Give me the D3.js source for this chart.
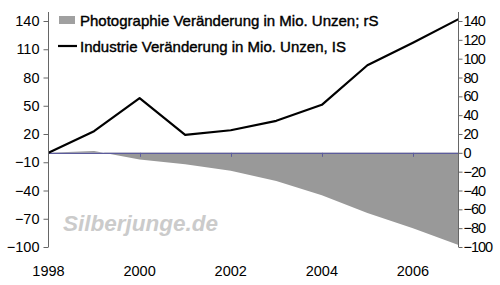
<!DOCTYPE html>
<html>
<head>
<meta charset="utf-8">
<script src="https://cdn.jsdelivr.net/npm/d3@7/dist/d3.min.js"></script>
<style>
  body { margin: 0; background: #fff; }
  svg text { font-family: "Liberation Sans", Arial, sans-serif; fill: #000; }
</style>
</head>
<body>
<div id="chart"></div>
<script>
const years = [1998, 1999, 2000, 2001, 2002, 2003, 2004, 2005, 2006, 2007];
const industrie = [0, 23, 58, 19, 24, 34, 51, 93, 117, 142];
const photographie = [0, 2, -7, -12, -19, -30, -45, -64, -80, -98];
const leftTicks = [-100, -70, -40, -10, 20, 50, 80, 110, 140];
const rightTicks = [-100, -80, -60, -40, -20, 0, 20, 40, 60, 80, 100, 120, 140];
const yearTicks = [1998, 2000, 2002, 2004, 2006];
const legendLabels = [
  "Photographie Veränderung in Mio. Unzen; rS",
  "Industrie Veränderung in Mio. Unzen, IS"
];

const width = 500, height = 285;
const plot = { left: 48.5, right: 458.5, top: 21, bottom: 247 };

const svg = d3.select("#chart")
  .append("svg")
  .attr("width", width)
  .attr("height", height);

const x = d3.scaleLinear().domain([1998, 2007]).range([plot.left, plot.right]);
const yL = d3.scaleLinear().domain([-100, 140]).range([plot.bottom, plot.top]);
const yR = d3.scaleLinear().domain([-100, 140]).range([plot.bottom, plot.top]);

// photography area (right scale)
const area = d3.area()
  .x((d, i) => x(years[i]))
  .y0(yR(0))
  .y1(d => yR(d));

svg.append("path")
  .datum(photographie)
  .attr("d", area)
  .attr("fill", "#999999");

// zero line with year ticks
svg.append("line")
  .attr("x1", plot.left).attr("x2", plot.right)
  .attr("y1", yL(0) + 0.5).attr("y2", yL(0) + 0.5)
  .attr("stroke", "#5c5c9c")
  .attr("stroke-width", 1.2);

svg.selectAll(".ytick")
  .data(yearTicks.slice(1))
  .enter()
  .append("line")
  .attr("x1", d => Math.round(x(d)) + 0.5)
  .attr("x2", d => Math.round(x(d)) + 0.5)
  .attr("y1", yL(0))
  .attr("y2", yL(0) + 4)
  .attr("stroke", "#5c5c9c");

// industry line (left scale)
const line = d3.line()
  .x((d, i) => x(years[i]))
  .y(d => yL(d));

svg.append("path")
  .datum(industrie)
  .attr("d", line)
  .attr("fill", "none")
  .attr("stroke", "#000")
  .attr("stroke-width", 2.2)
  .attr("stroke-linejoin", "round");

// left axis
const axisL = svg.append("g")
  .attr("transform", `translate(${plot.left},0)`)
  .call(d3.axisLeft(yL).tickValues(leftTicks).tickSize(5).tickPadding(4));
axisL.select(".domain").attr("d", `M0,12V${plot.bottom}`);

// right axis
const axisR = svg.append("g")
  .attr("transform", `translate(${plot.right},0)`)
  .call(d3.axisRight(yR).tickValues(rightTicks).tickSize(4).tickPadding(1));
axisR.select(".domain").attr("d", `M0,12V${plot.bottom}`);

[axisL, axisR].forEach(g => {
  g.selectAll(".domain").attr("stroke", "#666");
  g.selectAll(".tick line").attr("stroke", "#666");
});
axisL.selectAll("text").attr("font-size", 14.5).attr("fill", "#000");
axisR.selectAll("text")
  .attr("font-size", 14.5)
  .attr("letter-spacing", -1)
  .attr("fill", "#000");

// year labels
svg.selectAll(".year")
  .data(yearTicks)
  .enter()
  .append("text")
  .attr("x", d => x(d))
  .attr("y", 276)
  .attr("text-anchor", "middle")
  .attr("font-size", 14.5)
  .text(d => d);

// watermark
svg.append("text")
  .attr("x", 63)
  .attr("y", 231)
  .attr("font-size", 22.5)
  .attr("font-weight", "bold")
  .attr("font-style", "italic")
  .style("fill", "#cbcbcb")
  .text("Silberjunge.de");

// legend
svg.append("rect")
  .attr("x", 59).attr("y", 16)
  .attr("width", 16).attr("height", 8)
  .attr("fill", "#a0a0a0");

svg.append("line")
  .attr("x1", 58).attr("x2", 77)
  .attr("y1", 46).attr("y2", 46)
  .attr("stroke", "#000")
  .attr("stroke-width", 2.2);

svg.selectAll(".leg")
  .data(legendLabels)
  .enter()
  .append("text")
  .attr("x", 80)
  .attr("y", (d, i) => 25.5 + i * 26)
  .attr("font-size", 15)
  .attr("stroke", "#000")
  .attr("stroke-width", 0.4)
  .text(d => d);
</script>
</body>
</html>
